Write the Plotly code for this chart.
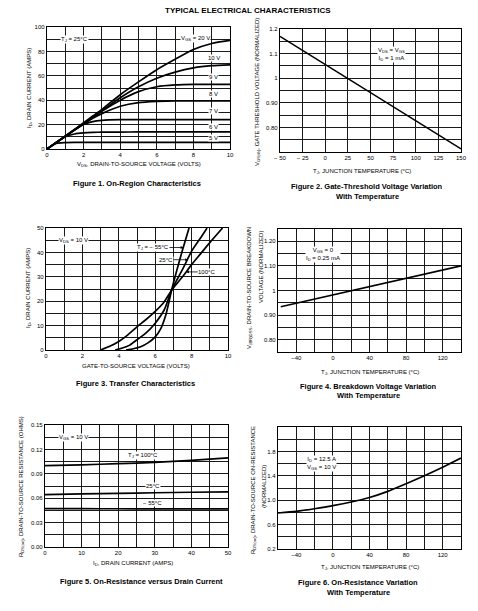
import plotly.graph_objects as go

W, H = 478, 611

# ---------------- DATA ----------------
# Figure 1: On-region characteristics (ID vs VDS)
vds = [0, 0.5, 1, 1.5, 2, 2.5, 3, 4, 5, 6, 7, 8, 9, 10]
id_vgs20 = [0, 5.4, 10.8, 16.1, 21.5, 27, 32.5, 44.5, 55, 65, 73.5, 81.5, 86.5, 89]
id_vgs10 = [0, 5.3, 10.5, 15.8, 21, 26.3, 31.5, 42, 51, 58, 63, 66.5, 68.3, 69]
id_vgs9 = [0, 5.2, 10.4, 15.6, 20.8, 26, 31, 40, 47, 51, 52.5, 53, 53, 53]
id_vgs8 = [0, 5.2, 10.4, 15.5, 20.5, 25.2, 29, 35, 38, 39, 39.5, 39.5, 39.5, 39.5]
id_vgs7 = [0, 5.2, 10.3, 15.5, 20, 22.5, 23.5, 24, 24, 24, 24, 24, 24, 24]
id_vgs6 = [0, 5.2, 10, 12.3, 13.2, 13.6, 13.8, 13.9, 14, 14, 14, 14, 14, 14]
id_vgs5 = [0, 4.6, 5.3, 5.5, 5.5, 5.5, 5.5, 5.5, 5.5, 5.5, 5.5, 5.5, 5.5, 5.5]
fig1_labels = ["10 V", "9 V", "8 V", "7 V", "6 V", "5 V"]
fig1_label_y = [74.3, 58.8, 45, 31.4, 17.8, 8.8]

# Figure 2: Gate threshold vs temperature
tj2 = [-50, 150]
vth = [1.17, 0.713]

# Figure 3: Transfer characteristics
vgs_100 = [3.0, 3.5, 4, 4.5, 5, 5.5, 6, 6.5, 6.9, 7.5, 8, 8.5, 9, 9.7]
id_100 = [0, 1.5, 3.5, 6.2, 9.5, 12.5, 15.8, 19.8, 24.5, 30, 35, 39.5, 44, 50]
vgs_25 = [3.8, 4.2, 4.6, 5, 5.5, 6, 6.5, 6.9, 7.5, 8, 8.5, 8.85]
id_25 = [0, 0.8, 2, 4.2, 7, 11, 16.5, 24.5, 33, 40.5, 46, 50]
vgs_m55 = [4.4, 4.8, 5.2, 5.6, 6, 6.3, 6.6, 6.9, 7.2, 7.5, 7.86]
id_m55 = [0, 0.5, 1.3, 2.9, 5.4, 8.7, 14.8, 24.5, 33, 41, 50]

# Figure 4: Breakdown voltage vs temperature
tj4 = [-57, 140]
bvdss = [0.934, 1.10]

# Figure 5: On-resistance vs drain current
id5 = [0, 10, 20, 30, 40, 50]
rds_100 = [0.100, 0.101, 0.1025, 0.104, 0.1065, 0.1095]
rds_25 = [0.0645, 0.0652, 0.066, 0.0667, 0.0673, 0.0678]
rds_m55 = [0.0472, 0.0471, 0.047, 0.0469, 0.0468, 0.0468]

# Figure 6: On-resistance vs temperature
tj6 = [-60, -40, -20, 0, 20, 40, 60, 80, 100, 120, 140]
rds6 = [0.79, 0.817, 0.86, 0.91, 0.97, 1.045, 1.145, 1.27, 1.40, 1.54, 1.69]

# ---------------- HELPERS ----------------
NARROW = "Liberation Sans Narrow, Arial Narrow, Liberation Sans, Arial, sans-serif"
BOLD = "Liberation Sans, Arial, Helvetica, sans-serif"


def dom_x(a, b):
    return [a / W, b / W]


def dom_y(top, bottom):
    return [1 - bottom / H, 1 - top / H]


def px(x):
    return x / W


def py(y):
    return 1 - y / H


def axis(domain, rng, anchor, tickvals=None, ticktext=None, dtick=None, tick0=None,
         mdtick=None, mtick0=None):
    a = dict(domain=domain, range=rng, anchor=anchor, showline=True, mirror=True,
             linecolor="black", linewidth=1.4, showgrid=True, gridcolor="#1a1a1a",
             gridwidth=1, zeroline=False, ticks="", ticklen=0, automargin=False,
             tickfont=dict(family=NARROW, size=6, color="black"), fixedrange=True)
    if tickvals is not None:
        a.update(tickmode="array", tickvals=tickvals, ticktext=ticktext)
    else:
        a.update(tickmode="linear", dtick=dtick, tick0=tick0)
    if mdtick is not None:
        a["minor"] = dict(dtick=mdtick, tick0=mtick0, showgrid=True, gridcolor="#1a1a1a",
                          gridwidth=1, ticks="")
    return a


fig = go.Figure()
line = dict(color="black", width=1.7, shape="spline", smoothing=0.6)

# Fig 1 traces
for ys in [id_vgs20, id_vgs10, id_vgs9, id_vgs8, id_vgs7, id_vgs6, id_vgs5]:
    fig.add_trace(go.Scatter(x=vds, y=ys, mode="lines", line=line, xaxis="x", yaxis="y",
                             showlegend=False, hoverinfo="skip"))
# Fig 2
fig.add_trace(go.Scatter(x=tj2, y=vth, mode="lines", line=dict(color="black", width=1.4),
                         xaxis="x2", yaxis="y2", showlegend=False, hoverinfo="skip"))
# Fig 3
for xs, ys in [(vgs_100, id_100), (vgs_25, id_25), (vgs_m55, id_m55)]:
    fig.add_trace(go.Scatter(x=xs, y=ys, mode="lines", line=line, xaxis="x3", yaxis="y3",
                             showlegend=False, hoverinfo="skip"))
# Fig 4
fig.add_trace(go.Scatter(x=tj4, y=bvdss, mode="lines", line=dict(color="black", width=1.7),
                         xaxis="x4", yaxis="y4", showlegend=False, hoverinfo="skip"))
# Fig 5
for ys in [rds_100, rds_25, rds_m55]:
    fig.add_trace(go.Scatter(x=id5, y=ys, mode="lines", line=line, xaxis="x5", yaxis="y5",
                             showlegend=False, hoverinfo="skip"))
# Fig 6
fig.add_trace(go.Scatter(x=tj6, y=rds6, mode="lines", line=line, xaxis="x6", yaxis="y6",
                         showlegend=False, hoverinfo="skip"))

layout = dict(
    width=W, height=H, autosize=False, margin=dict(l=0, r=0, t=0, b=0, pad=0),
    paper_bgcolor="white", plot_bgcolor="white", showlegend=False,
    xaxis=axis(dom_x(47, 230), [0, 10], "y", dtick=2, tick0=0, mdtick=1, mtick0=0),
    yaxis=axis(dom_y(27, 149), [0, 100], "x", dtick=20, tick0=0, mdtick=10, mtick0=0),
    xaxis2=axis(dom_x(280, 461), [-50, 150], "y2",
                tickvals=[-50, -25, 0, 25, 50, 75, 100, 125, 150],
                ticktext=["\u2212 50", "\u2212 25", "0", "25", "50", "75", "100", "125", "150"]),
    yaxis2=axis(dom_y(29, 152), [0.7, 1.2], "x2",
                tickvals=[0.8, 0.9, 1.0, 1.1, 1.2], ticktext=["0.80", "0.90", "1", "1.1", "1.2"],
                mdtick=0.05, mtick0=0.7),
    xaxis3=axis(dom_x(46, 228), [0, 10], "y3", dtick=2, tick0=0, mdtick=1, mtick0=0),
    yaxis3=axis(dom_y(228, 350), [0, 50], "x3", dtick=10, tick0=0, mdtick=5, mtick0=0),
    xaxis4=axis(dom_x(278, 461), [-60, 140], "y4",
                tickvals=[-40, 0, 40, 80, 120], ticktext=["\u221240", "0", "40", "80", "120"],
                mdtick=20, mtick0=-60),
    yaxis4=axis(dom_y(229, 352), [0.75, 1.25], "x4",
                tickvals=[0.8, 0.9, 1.0, 1.1, 1.2], ticktext=["0.80", "0.90", "1", "1.10", "1.20"],
                mdtick=0.05, mtick0=0.75),
    xaxis5=axis(dom_x(45, 228), [0, 50], "y5", dtick=10, tick0=0, mdtick=5, mtick0=0),
    yaxis5=axis(dom_y(425, 547), [0, 0.15], "x5",
                tickvals=[0, 0.03, 0.06, 0.09, 0.12, 0.15],
                ticktext=["0.00", "0.03", "0.06", "0.09", "0.12", "0.15"],
                mdtick=0.015, mtick0=0),
    xaxis6=axis(dom_x(278, 461), [-60, 140], "y6",
                tickvals=[-40, 0, 40, 80, 120], ticktext=["\u221240", "0", "40", "80", "120"],
                mdtick=20, mtick0=-60),
    yaxis6=axis(dom_y(427, 549), [0.2, 2.2], "x6",
                tickvals=[0.2, 0.6, 1.0, 1.4, 1.8], ticktext=["0.2", "0.6", "1.0", "1.4", "1.8"],
                mdtick=0.2, mtick0=0.2),
)
fig.update_layout(**layout)

ann = []


def paper_text(text, x, y, size=6, bold=False, angle=0, family=None, xanchor="center"):
    ann.append(dict(text=text, x=px(x), y=py(y), xref="paper", yref="paper", showarrow=False,
                    xanchor=xanchor, yanchor="middle", textangle=angle,
                    font=dict(family=family or (BOLD if bold else NARROW), size=size,
                              color="black")))


def data_text(text, x, y, n, size=6, bg=True, xanchor="center"):
    ann.append(dict(text=text, x=x, y=y, xref="x" + n, yref="y" + n, showarrow=False,
                    xanchor=xanchor, yanchor="middle",
                    bgcolor="white" if bg else None, borderpad=0,
                    font=dict(family=NARROW, size=size, color="black")))


# Main title
paper_text("<b>TYPICAL ELECTRICAL CHARACTERISTICS</b>", 248, 10, size=8, bold=True)

# Captions
CAP = 7.5
paper_text("<b>Figure 1. On-Region Characteristics</b>", 137, 184, size=CAP, bold=True)
paper_text("<b>Figure 2. Gate-Threshold Voltage Variation</b>", 367, 187, size=CAP, bold=True)
paper_text("<b>With Temperature</b>", 367, 196, size=CAP, bold=True)
paper_text("<b>Figure 3. Transfer Characteristics</b>", 135, 383, size=CAP, bold=True)
paper_text("<b>Figure 4. Breakdown Voltage Variation</b>", 368, 386, size=CAP, bold=True)
paper_text("<b>With Temperature</b>", 368, 395, size=CAP, bold=True)
paper_text("<b>Figure 5. On-Resistance versus Drain Current</b>", 141, 581, size=CAP, bold=True)
paper_text("<b>Figure 6. On-Resistance Variation</b>", 358, 582, size=CAP, bold=True)
paper_text("<b>With Temperature</b>", 358, 592, size=CAP, bold=True)

# Axis titles
paper_text("V<sub>DS</sub>, DRAIN-TO-SOURCE VOLTAGE (VOLTS)", 139, 164, size=6)
paper_text("I<sub>D</sub>, DRAIN CURRENT (AMPS)", 30, 88, size=6, angle=-90)
paper_text("T<sub>J</sub>, JUNCTION TEMPERATURE (\u00b0C)", 362, 171, size=6)
paper_text("V<sub>GS(th)</sub>, GATE THRESHOLD VOLTAGE (NORMALIZED)", 258, 92, size=6, angle=-90)
paper_text("GATE-TO-SOURCE VOLTAGE (VOLTS)", 136, 366, size=6)
paper_text("I<sub>D</sub>, DRAIN CURRENT (AMPS)", 29, 288, size=6, angle=-90)
paper_text("T<sub>J</sub>, JUNCTION TEMPERATURE (\u00b0C)", 370, 372, size=6)
paper_text("V<sub>(BR)DSS</sub>, DRAIN-TO-SOURCE BREAKDOWN", 250, 288, size=6, angle=-90)
paper_text("VOLTAGE (NORMALIZED)", 261, 267, size=6, angle=-90)
paper_text("I<sub>D</sub>, DRAIN CURRENT (AMPS)", 133, 563, size=6)
paper_text("R<sub>DS(on)</sub>, DRAIN-TO-SOURCE RESISTANCE (OHMS)", 22, 487, size=6, angle=-90)
paper_text("T<sub>J</sub>, JUNCTION TEMPERATURE (\u00b0C)", 370, 567, size=6)
paper_text("R<sub>DS(on)</sub>, DRAIN-TO-SOURCE ON-RESISTANCE", 253, 490, size=6, angle=-90)
paper_text("(NORMALIZED)", 264, 487, size=6, angle=-90)

# In-plot labels
data_text("T<sub>J</sub> = 25\u00b0C", 1.5, 90, "")
data_text("V<sub>GS</sub> = 20 V", 8.1, 90.5, "")
for t, yv in zip(fig1_labels, fig1_label_y):
    data_text(t, 9.1, yv, "")

data_text("V<sub>DS</sub> = V<sub>GS</sub><br>I<sub>D</sub> = 1 mA", 57, 1.097, "2", xanchor="left")

data_text("V<sub>DS</sub> = 10 V", 1.5, 45, "3")
for txt, tipx, tipy, tx, ty in [("T<sub>J</sub> = \u2212 55\u00b0C", 7.55, 42, 5.88, 42),
                                 ("25\u00b0C", 7.8, 37, 6.58, 37),
                                 ("100\u00b0C", 7.7, 32, 8.83, 32)]:
    ann.append(dict(text=txt, x=tipx, y=tipy, xref="x3", yref="y3", ax=tx, ay=ty,
                    axref="x3", ayref="y3", showarrow=True, arrowhead=2, arrowsize=0.7,
                    arrowwidth=0.8, arrowcolor="black", bgcolor="white", borderpad=0,
                    font=dict(family=NARROW, size=6, color="black")))

data_text("V<sub>GS</sub> = 0<br>I<sub>D</sub> = 0.25 mA", -30.5, 1.148, "4", xanchor="left")

data_text("V<sub>GS</sub> = 10 V", 7.65, 0.135, "5")
data_text("T<sub>J</sub> = 100\u00b0C", 26.8, 0.1125, "5")
data_text("25\u00b0C", 29.5, 0.075, "5")
data_text("\u2212 55\u00b0C", 29.5, 0.0545, "5")

data_text("I<sub>D</sub> = 12.5 A<br>V<sub>GS</sub> = 10 V", -29, 1.6, "6", xanchor="left")

fig.update_layout(annotations=ann)
fig.write_html("out.html", config={"displayModeBar": False},
               post_script="document.body.style.margin='0';document.body.style.padding='0';")
